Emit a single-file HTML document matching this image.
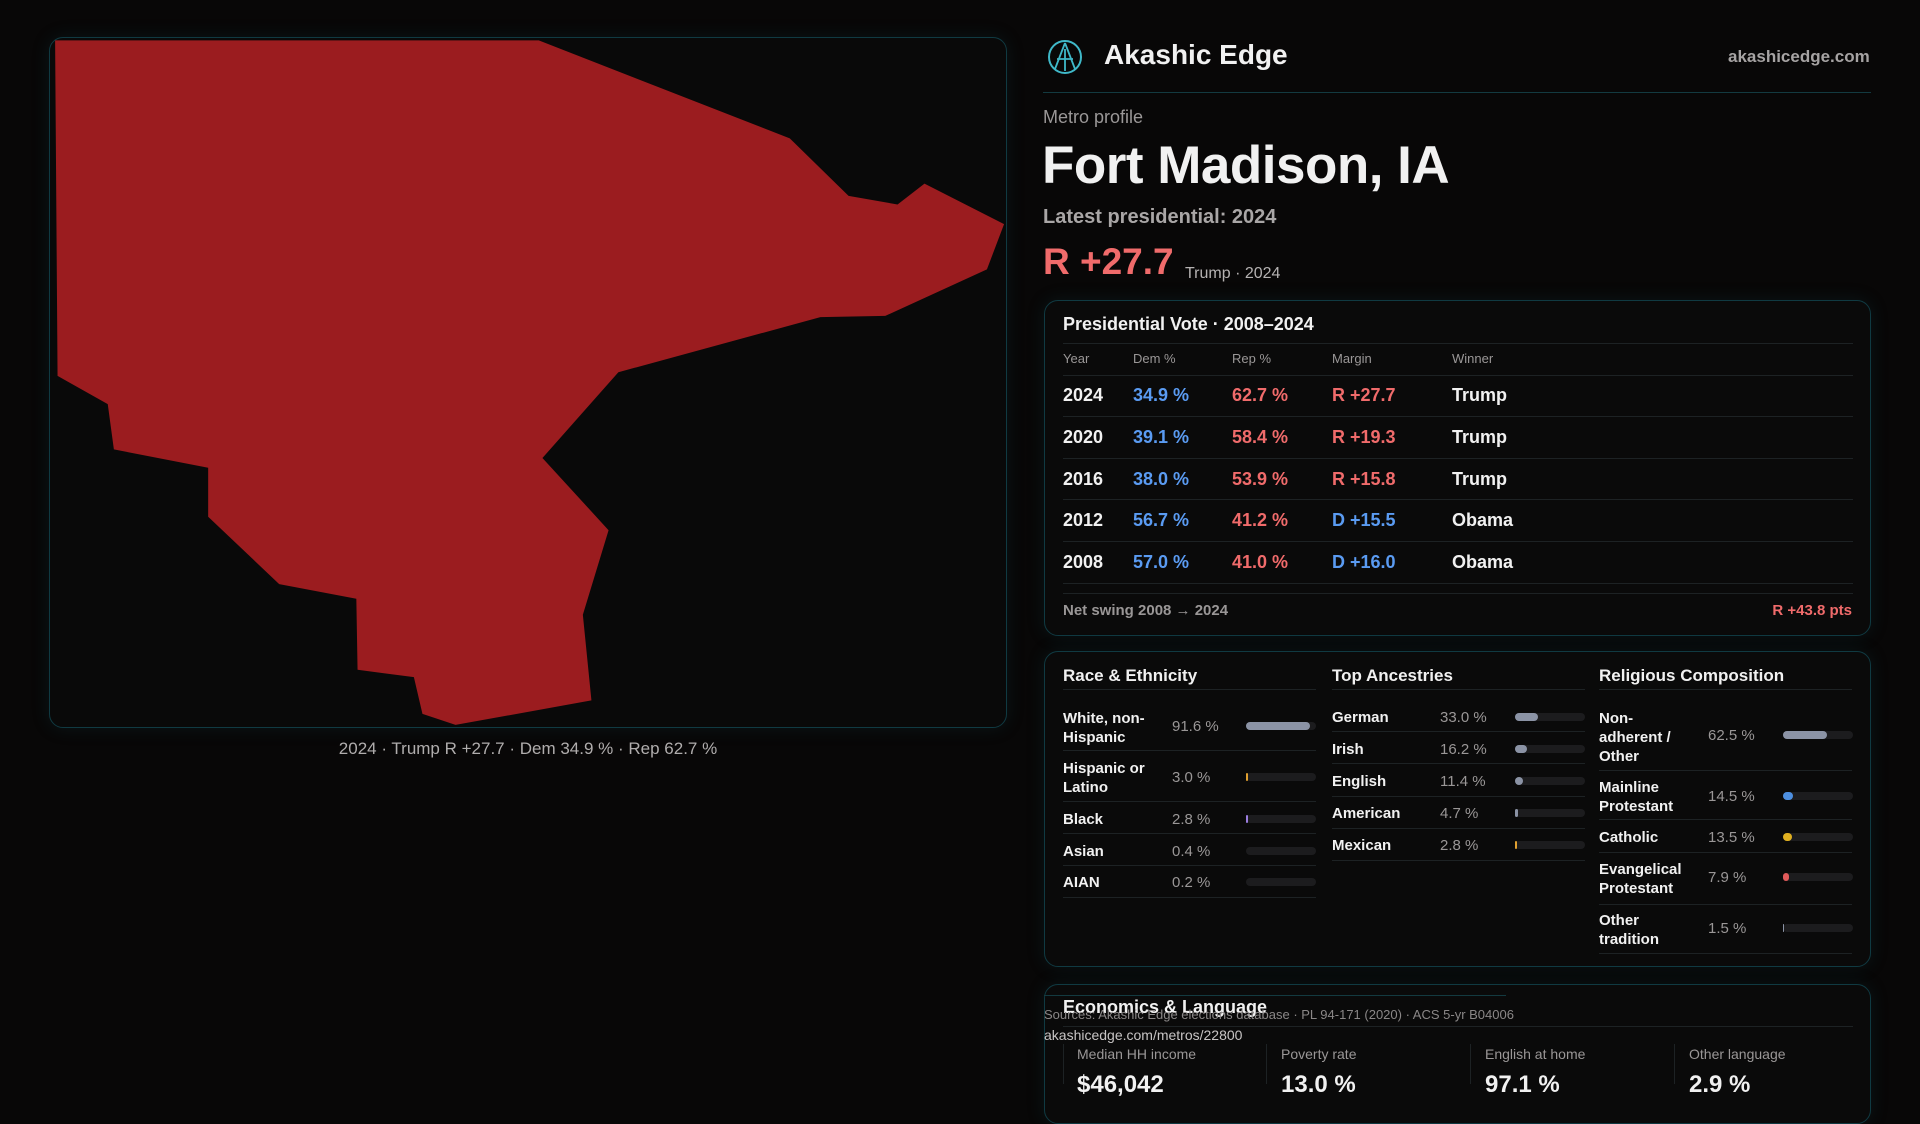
<!DOCTYPE html>
<html><head><meta charset="utf-8"><style>
*{margin:0;padding:0;box-sizing:border-box}
body{width:1920px;height:1080px;background:#080707;overflow:hidden;position:relative;font-family:"Liberation Sans",sans-serif;color:#f1f1f1}
.a{position:absolute;white-space:nowrap}
.card{position:absolute;border:1px solid #103a42;border-radius:14px;background:#0a0a0a;box-shadow:0 0 18px rgba(20,90,100,0.18)}
.g{color:#9a9797}
.r{color:#f06b6b}
.b{color:#5a9bf2}
.ln{position:absolute;height:1px;background:#1d2224}
.tr{position:absolute;height:8px;border-radius:4px;background:#1c1c1e}
.tr i{position:absolute;left:0;top:0;height:8px;border-radius:4px;display:block}
.s{font-size:15px}
</style></head><body>
<div class="card" style="left:49px;top:37px;width:958px;height:691px;background:#090909"></div>
<svg class="a" style="left:0;top:0" width="1920" height="1080" viewBox="0 0 1568 882">
<polygon fill="#9b1c1f" points="45,33 440,33 645,113 693,160 733,167 755,150 820,183 806,220 723,258 670,259 505,304 443,374 497,433 476,502 483,572 372,592 345,583 338,553 292,547 291,489 228,477 170,422 170,382 93,367 88,330 47,307"/>
</svg>
<div class="a g" style="left:0;width:1056px;text-align:center;top:739px;font-size:17px;color:#b0adad">2024 · Trump R +27.7 · Dem 34.9 % · Rep 62.7 %</div>

<svg class="a" style="left:1047px;top:39px" width="36" height="36" viewBox="0 0 36 36"><circle cx="18" cy="18" r="16" fill="none" stroke="#3fb8c8" stroke-width="2"/><path d="M18 4 L8 30 M18 4 L28 30 M10 20 L26 20 M18 10 L18 32" stroke="#3fb8c8" stroke-width="1.8" fill="none"/></svg>
<div class="a" style="left:1104px;top:39px;font-size:28px;font-weight:bold">Akashic Edge</div>
<div class="a g" style="left:1728px;top:47px;font-size:17px;font-weight:bold;color:#a6a3a3">akashicedge.com</div>
<div class="ln" style="left:1043px;top:92px;width:828px;background:#133a40"></div>
<div class="a g" style="left:1043px;top:107px;font-size:18px">Metro profile</div>
<div class="a" style="left:1042px;top:135px;font-size:53px;font-weight:bold;letter-spacing:-0.5px">Fort Madison, IA</div>
<div class="a g" style="left:1043px;top:206px;font-size:20px;font-weight:bold;color:#a9a6a6">Latest presidential: 2024</div>
<div class="a r" style="left:1043px;top:241px;font-size:37px;font-weight:bold">R +27.7</div>
<div class="a" style="left:1185px;top:265px;font-size:16px;color:#b5b2b2">Trump · 2024</div>

<div class="card" style="left:1044px;top:300px;width:827px;height:336px"></div>
<div class="a" style="left:1063px;top:314px;font-size:18px;font-weight:bold">Presidential Vote · 2008–2024</div>
<div class="ln" style="left:1063px;top:343px;width:790px"></div>
<div class="a g" style="left:1063px;top:351px;font-size:13px">Year</div>
<div class="a g" style="left:1133px;top:351px;font-size:13px">Dem %</div>
<div class="a g" style="left:1232px;top:351px;font-size:13px">Rep %</div>
<div class="a g" style="left:1332px;top:351px;font-size:13px">Margin</div>
<div class="a g" style="left:1452px;top:351px;font-size:13px">Winner</div>
<div class="ln" style="left:1063px;top:375px;width:790px"></div>

<div class="a" style="left:1063px;top:385px;font-size:18px;font-weight:bold">2024</div><div class="a b" style="left:1133px;top:385px;font-size:18px;font-weight:bold">34.9 %</div><div class="a r" style="left:1232px;top:385px;font-size:18px;font-weight:bold">62.7 %</div><div class="a r" style="left:1332px;top:385px;font-size:18px;font-weight:bold">R +27.7</div><div class="a" style="left:1452px;top:385px;font-size:18px;font-weight:bold">Trump</div>
<div class="ln" style="left:1063px;top:416px;width:790px"></div>
<div class="a" style="left:1063px;top:427px;font-size:18px;font-weight:bold">2020</div><div class="a b" style="left:1133px;top:427px;font-size:18px;font-weight:bold">39.1 %</div><div class="a r" style="left:1232px;top:427px;font-size:18px;font-weight:bold">58.4 %</div><div class="a r" style="left:1332px;top:427px;font-size:18px;font-weight:bold">R +19.3</div><div class="a" style="left:1452px;top:427px;font-size:18px;font-weight:bold">Trump</div>
<div class="ln" style="left:1063px;top:458px;width:790px"></div>
<div class="a" style="left:1063px;top:469px;font-size:18px;font-weight:bold">2016</div><div class="a b" style="left:1133px;top:469px;font-size:18px;font-weight:bold">38.0 %</div><div class="a r" style="left:1232px;top:469px;font-size:18px;font-weight:bold">53.9 %</div><div class="a r" style="left:1332px;top:469px;font-size:18px;font-weight:bold">R +15.8</div><div class="a" style="left:1452px;top:469px;font-size:18px;font-weight:bold">Trump</div>
<div class="ln" style="left:1063px;top:499px;width:790px"></div>
<div class="a" style="left:1063px;top:510px;font-size:18px;font-weight:bold">2012</div><div class="a b" style="left:1133px;top:510px;font-size:18px;font-weight:bold">56.7 %</div><div class="a r" style="left:1232px;top:510px;font-size:18px;font-weight:bold">41.2 %</div><div class="a b" style="left:1332px;top:510px;font-size:18px;font-weight:bold">D +15.5</div><div class="a" style="left:1452px;top:510px;font-size:18px;font-weight:bold">Obama</div>
<div class="ln" style="left:1063px;top:541px;width:790px"></div>
<div class="a" style="left:1063px;top:552px;font-size:18px;font-weight:bold">2008</div><div class="a b" style="left:1133px;top:552px;font-size:18px;font-weight:bold">57.0 %</div><div class="a r" style="left:1232px;top:552px;font-size:18px;font-weight:bold">41.0 %</div><div class="a b" style="left:1332px;top:552px;font-size:18px;font-weight:bold">D +16.0</div><div class="a" style="left:1452px;top:552px;font-size:18px;font-weight:bold">Obama</div>
<div class="ln" style="left:1063px;top:583px;width:790px"></div>
<div class="ln" style="left:1063px;top:593px;width:790px"></div>
<div class="a g" style="left:1063px;top:602px;font-size:15px;font-weight:bold">Net swing 2008 → 2024</div>
<div class="a r" style="left:1700px;width:152px;text-align:right;top:602px;font-size:15px;font-weight:bold">R +43.8 pts</div>

<div class="card" style="left:1044px;top:651px;width:827px;height:316px"></div>
<div class="a" style="left:1063px;top:666px;font-size:17px;font-weight:bold">Race &amp; Ethnicity</div>
<div class="a" style="left:1332px;top:666px;font-size:17px;font-weight:bold">Top Ancestries</div>
<div class="a" style="left:1599px;top:666px;font-size:17px;font-weight:bold">Religious Composition</div>
<div class="ln" style="left:1063px;top:689px;width:253px"></div>
<div class="ln" style="left:1332px;top:689px;width:253px"></div>
<div class="ln" style="left:1599px;top:689px;width:253px"></div>

<div class="a s" style="left:1063px;top:709px;line-height:19px;font-weight:bold">White, non-<br>Hispanic</div><div class="a g s" style="left:1172px;top:718px">91.6 %</div><div class="tr" style="left:1246px;top:722px;width:70px"><i style="width:64px;background:#8b93a5"></i></div>
<div class="ln" style="left:1063px;top:750px;width:253px"></div>
<div class="a s" style="left:1063px;top:759px;line-height:19px;font-weight:bold">Hispanic or<br>Latino</div><div class="a g s" style="left:1172px;top:769px">3.0 %</div><div class="tr" style="left:1246px;top:773px;width:70px"><i style="width:2px;background:#e0a030"></i></div>
<div class="ln" style="left:1063px;top:801px;width:253px"></div>
<div class="a s" style="left:1063px;top:811px;font-weight:bold">Black</div><div class="a g s" style="left:1172px;top:811px">2.8 %</div><div class="tr" style="left:1246px;top:815px;width:70px"><i style="width:2px;background:#9b7ee0"></i></div>
<div class="ln" style="left:1063px;top:833px;width:253px"></div>
<div class="a s" style="left:1063px;top:843px;font-weight:bold">Asian</div><div class="a g s" style="left:1172px;top:843px">0.4 %</div><div class="tr" style="left:1246px;top:847px;width:70px"></div>
<div class="ln" style="left:1063px;top:865px;width:253px"></div>
<div class="a s" style="left:1063px;top:874px;font-weight:bold">AIAN</div><div class="a g s" style="left:1172px;top:874px">0.2 %</div><div class="tr" style="left:1246px;top:878px;width:70px"></div>
<div class="ln" style="left:1063px;top:897px;width:253px"></div>

<div class="a s" style="left:1332px;top:709px;font-weight:bold">German</div><div class="a g s" style="left:1440px;top:709px">33.0 %</div><div class="tr" style="left:1515px;top:713px;width:70px"><i style="width:23px;background:#8b93a5"></i></div>
<div class="ln" style="left:1332px;top:731px;width:253px"></div>
<div class="a s" style="left:1332px;top:741px;font-weight:bold">Irish</div><div class="a g s" style="left:1440px;top:741px">16.2 %</div><div class="tr" style="left:1515px;top:745px;width:70px"><i style="width:12px;background:#8b93a5"></i></div>
<div class="ln" style="left:1332px;top:763px;width:253px"></div>
<div class="a s" style="left:1332px;top:773px;font-weight:bold">English</div><div class="a g s" style="left:1440px;top:773px">11.4 %</div><div class="tr" style="left:1515px;top:777px;width:70px"><i style="width:8px;background:#8b93a5"></i></div>
<div class="ln" style="left:1332px;top:796px;width:253px"></div>
<div class="a s" style="left:1332px;top:805px;font-weight:bold">American</div><div class="a g s" style="left:1440px;top:805px">4.7 %</div><div class="tr" style="left:1515px;top:809px;width:70px"><i style="width:3px;background:#8b93a5"></i></div>
<div class="ln" style="left:1332px;top:828px;width:253px"></div>
<div class="a s" style="left:1332px;top:837px;font-weight:bold">Mexican</div><div class="a g s" style="left:1440px;top:837px">2.8 %</div><div class="tr" style="left:1515px;top:841px;width:70px"><i style="width:2px;background:#e0a030"></i></div>
<div class="ln" style="left:1332px;top:860px;width:253px"></div>

<div class="a s" style="left:1599px;top:709px;line-height:19px;font-weight:bold">Non-<br>adherent /<br>Other</div><div class="a g s" style="left:1708px;top:727px">62.5 %</div><div class="tr" style="left:1783px;top:731px;width:70px"><i style="width:44px;background:#8b93a5"></i></div>
<div class="ln" style="left:1599px;top:770px;width:253px"></div>
<div class="a s" style="left:1599px;top:778px;line-height:19px;font-weight:bold">Mainline<br>Protestant</div><div class="a g s" style="left:1708px;top:788px">14.5 %</div><div class="tr" style="left:1783px;top:792px;width:70px"><i style="width:10px;background:#4d8fe0"></i></div>
<div class="ln" style="left:1599px;top:819px;width:253px"></div>
<div class="a s" style="left:1599px;top:829px;font-weight:bold">Catholic</div><div class="a g s" style="left:1708px;top:829px">13.5 %</div><div class="tr" style="left:1783px;top:833px;width:70px"><i style="width:9px;background:#e0b020"></i></div>
<div class="ln" style="left:1599px;top:852px;width:253px"></div>
<div class="a s" style="left:1599px;top:860px;line-height:19px;font-weight:bold">Evangelical<br>Protestant</div><div class="a g s" style="left:1708px;top:869px">7.9 %</div><div class="tr" style="left:1783px;top:873px;width:70px"><i style="width:6px;background:#e05a5a"></i></div>
<div class="ln" style="left:1599px;top:904px;width:253px"></div>
<div class="a s" style="left:1599px;top:911px;line-height:19px;font-weight:bold">Other<br>tradition</div><div class="a g s" style="left:1708px;top:920px">1.5 %</div><div class="tr" style="left:1783px;top:924px;width:70px"><i style="width:1px;background:#8b93a5"></i></div>
<div class="ln" style="left:1599px;top:953px;width:253px"></div>

<div class="card" style="left:1044px;top:984px;width:827px;height:140px"></div>
<div class="ln" style="left:1044px;top:995px;width:462px;background:#133a40"></div>
<div class="a" style="left:1063px;top:997px;font-size:18px;font-weight:bold">Economics &amp; Language</div>
<div class="ln" style="left:1063px;top:1026px;width:790px"></div>
<div class="a g" style="left:1044px;top:1007px;font-size:13px;color:#8a8787">Sources: Akashic Edge elections database · PL 94-171 (2020) · ACS 5-yr B04006</div>
<div class="a" style="left:1044px;top:1027px;font-size:14px;color:#c8c5c5">akashicedge.com/metros/22800</div>
<div class="a g" style="left:1077px;top:1046px;font-size:14px">Median HH income</div>
<div class="a g" style="left:1281px;top:1046px;font-size:14px">Poverty rate</div>
<div class="a g" style="left:1485px;top:1046px;font-size:14px">English at home</div>
<div class="a g" style="left:1689px;top:1046px;font-size:14px">Other language</div>
<div class="a" style="left:1077px;top:1071px;font-size:24px;font-weight:bold">$46,042</div>
<div class="a" style="left:1281px;top:1071px;font-size:24px;font-weight:bold">13.0 %</div>
<div class="a" style="left:1485px;top:1071px;font-size:24px;font-weight:bold">97.1 %</div>
<div class="a" style="left:1689px;top:1071px;font-size:24px;font-weight:bold">2.9 %</div>
<div class="ln" style="left:1063px;top:1044px;width:1px;height:40px"></div>
<div class="ln" style="left:1266px;top:1044px;width:1px;height:40px"></div>
<div class="ln" style="left:1470px;top:1044px;width:1px;height:40px"></div>
<div class="ln" style="left:1674px;top:1044px;width:1px;height:40px"></div>
</body></html>
